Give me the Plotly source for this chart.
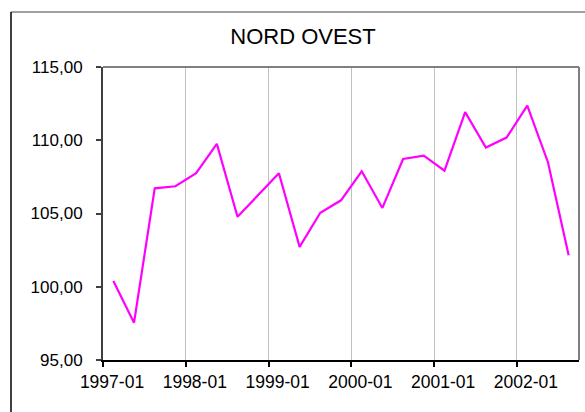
import plotly.graph_objects as go

title = "NORD OVEST"
quarters = [
    "1997-01", "1997-04", "1997-07", "1997-10",
    "1998-01", "1998-04", "1998-07", "1998-10",
    "1999-01", "1999-04", "1999-07", "1999-10",
    "2000-01", "2000-04", "2000-07", "2000-10",
    "2001-01", "2001-04", "2001-07", "2001-10",
    "2002-01", "2002-04", "2002-07",
]
values = [
    100.40, 97.55, 106.72, 106.86,
    107.75, 109.75, 104.78, 106.30,
    107.75, 102.72, 105.05, 105.90,
    107.88, 105.38, 108.72, 108.95,
    107.92, 111.92, 109.50, 110.18,
    112.36, 108.50, 102.15,
]
year_labels = ["1997-01", "1998-01", "1999-01", "2000-01", "2001-01", "2002-01"]
y_ticks = [95, 100, 105, 110, 115]

idx = list(range(len(quarters)))
label_pos = [quarters.index(l) - 0.5 for l in year_labels]
y_text = [f"{v:.2f}".replace(".", ",") for v in y_ticks]

FONT = "Liberation Sans, Arial, sans-serif"

fig = go.Figure()
fig.add_trace(go.Scatter(
    x=idx, y=values, mode="lines",
    line=dict(color="#FF00FF", width=2.2),
    customdata=quarters,
    hovertemplate="%{customdata}: %{y:.2f}<extra></extra>",
    showlegend=False,
))

W, H = 585, 412
L, R, T, B = 103, 579, 67, 360
pw, ph = R - L, B - T

def px(x):
    return (x - L) / pw

def py(y):
    return (B - y) / ph

fig.update_layout(
    width=W, height=H,
    margin=dict(l=L, r=W - R, t=T, b=H - B, pad=0),
    paper_bgcolor="white", plot_bgcolor="white",
    font=dict(family=FONT, size=17, color="#000000"),
    title=dict(text=title, xref="container", x=303 / W, xanchor="center",
               yref="container", y=1 - 36 / H, yanchor="middle",
               font=dict(family=FONT, size=22, color="#000000")),
    xaxis=dict(
        range=[-0.5, len(quarters) - 0.5],
        tickmode="array", tickvals=label_pos, ticktext=year_labels,
        ticklabelshift=9,
        showgrid=True, gridcolor="#c0c0c0", gridwidth=1,
        showline=True, linecolor="#000000", linewidth=2,
        ticks="outside", ticklen=5, tickcolor="#000000", tickwidth=1.5,
        zeroline=False, fixedrange=True,
        tickfont=dict(size=17.5),
    ),
    yaxis=dict(
        range=[95, 115],
        tickmode="array", tickvals=y_ticks, ticktext=y_text,
        showgrid=False,
        showline=True, linecolor="#404040", linewidth=2,
        ticks="outside", ticklen=5, tickcolor="#404040", tickwidth=1.5,
        ticklabelstandoff=10,
        zeroline=False, fixedrange=True,
        tickfont=dict(size=17),
    ),
    shapes=[
        dict(type="line", xref="paper", yref="paper", x0=0, x1=1, y0=1, y1=1,
             line=dict(color="#808080", width=2)),
        dict(type="line", xref="paper", yref="paper", x0=1, x1=1, y0=0, y1=1,
             line=dict(color="#808080", width=2)),
        dict(type="line", xref="paper", yref="paper", x0=px(11), x1=px(620),
             y0=py(12), y1=py(12), line=dict(color="#808080", width=1.5)),
        dict(type="line", xref="paper", yref="paper", x0=px(11), x1=px(11),
             y0=py(12), y1=py(440), line=dict(color="#000000", width=1.5)),
    ],
)

fig.write_html(
    "out.html",
    config={"displayModeBar": False},
    post_script="document.body.style.margin='0';document.body.style.overflow='hidden';",
)
